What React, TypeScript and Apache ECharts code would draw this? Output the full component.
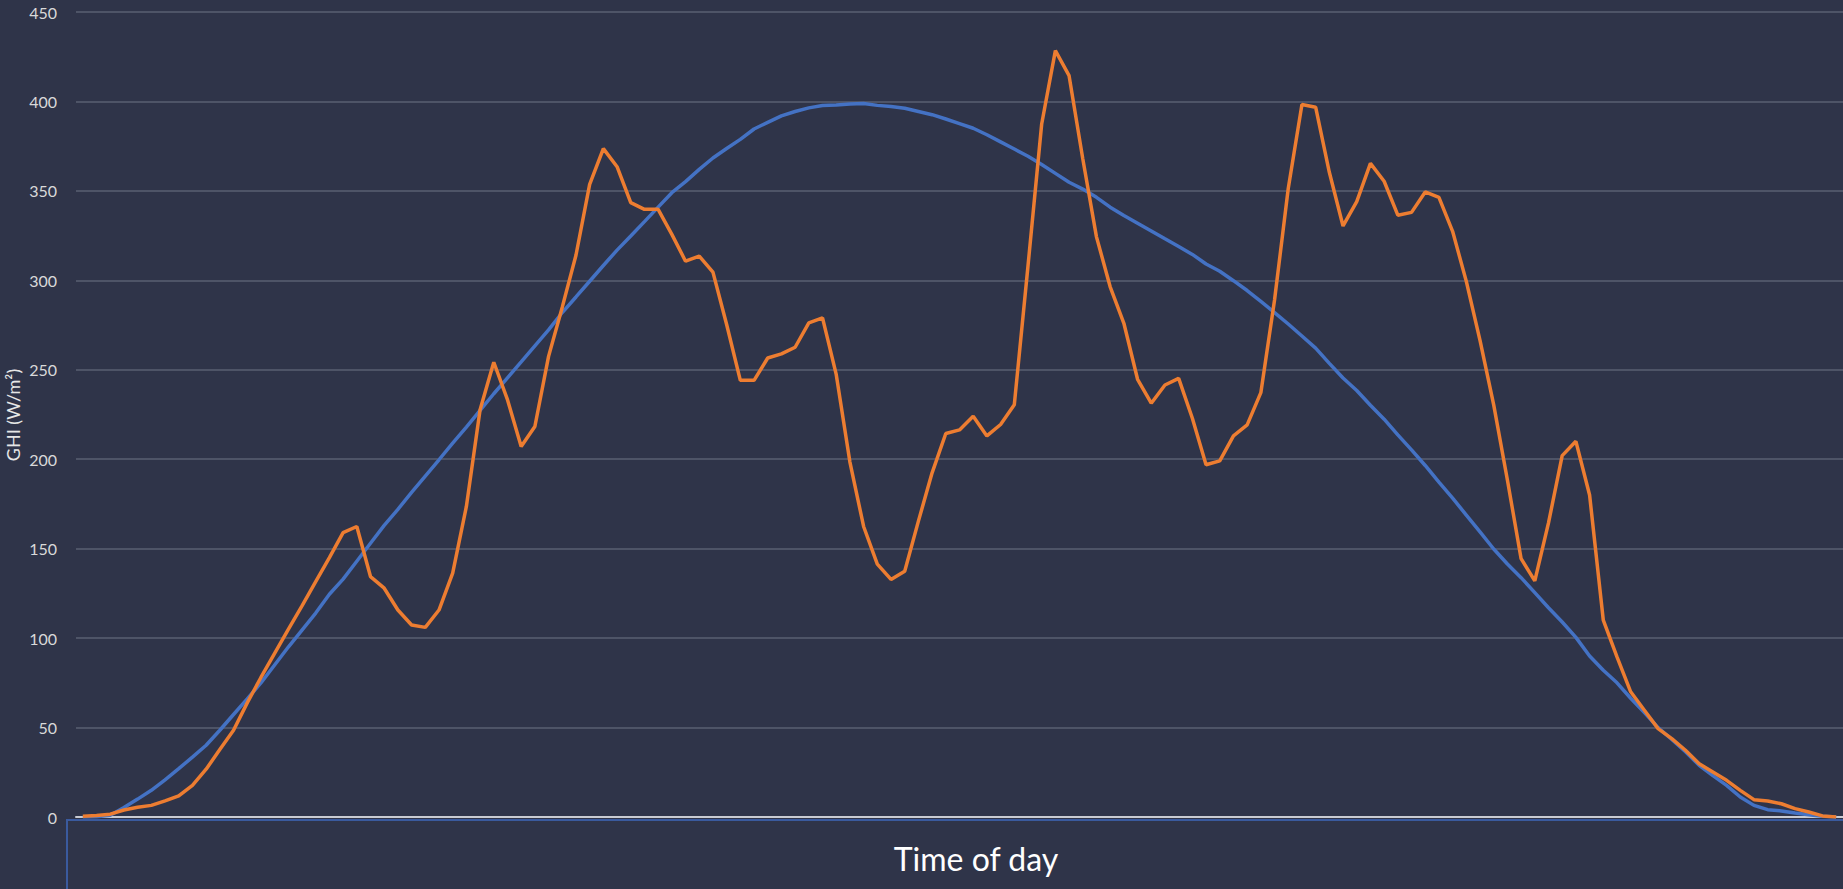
import React, { useEffect, useRef } from "react";
import * as echarts from "echarts";

const yTicks = { min: 0, max: 450, interval: 50 };

const clearSky: number[] = [
  0, 0.2, 1, 5.3, 10, 14.9, 20.8, 27, 33.5, 40.1,
  48.5, 57.3, 66, 75, 85, 95, 104.5, 114, 124.5, 133,
  143, 153, 163, 172, 181.5, 190.6, 199.7, 209, 218, 227.3,
  236.6, 245.5, 254.4, 263.4, 272.3, 282, 290.7, 299.5, 308.3, 316.9,
  324.8, 332.8, 340.9, 349, 355.2, 362, 368.4, 373.7, 378.8, 384.6,
  388.3, 391.9, 394.4, 396.4, 397.7, 398, 398.6, 398.8, 397.8, 397.2,
  396.2, 394.4, 392.6, 390.2, 387.6, 385, 381.4, 377.4, 373.4, 369.4,
  364.8, 359.8, 354.8, 351, 346.4, 340.9, 336.2, 331.9, 327.6, 323.2,
  318.9, 314.5, 309.1, 305.1, 299.8, 294.3, 288.2, 282, 275.6, 268.9,
  262.1, 253.6, 245.4, 238.4, 230.2, 222.4, 213.6, 205.2, 196.5, 187.2,
  178.2, 168.8, 159.4, 149.8, 141.4, 133.8, 125.4, 117, 109, 100.4,
  90, 82, 75, 66.4, 58.4, 50, 43.3, 36.5, 28.9, 23.1,
  17.7, 11.2, 6.5, 4.1, 3.4, 2.2, 1.3, 0.4, 0,
];

const measured: number[] = [
  0.4, 0.9, 1.6, 3.9, 5.4, 6.5, 9, 11.8, 17.7, 26.7,
  37.7, 48.5, 63.8, 78, 91.5, 104.9, 118, 131.6, 145, 159,
  162.4, 134.4, 127.9, 115.7, 107.3, 106, 115.7, 136.3, 173.6, 227.7,
  254.2, 233.3, 207.1, 218.3, 257.5, 285, 314, 353.6, 373.6, 363.5,
  343.4, 339.7, 339.7, 325.7, 310.7, 313.5, 304.6, 275.3, 244.1, 244.1,
  256.6, 258.9, 262.6, 276.2, 279, 247.4, 198.4, 162.4, 141.4, 132.8,
  137.4, 165.4, 192.4, 214.4, 216.4, 224, 213, 219.4, 230.4, 308,
  387.4, 428.4, 414.4, 368, 324.3, 296.4, 276, 244.7, 231.3, 241.5,
  245.2, 222.9, 196.9, 199.1, 213.1, 219.2, 237.2, 289, 351.3, 398.3,
  396.8, 360.4, 330.4, 344, 365.4, 355.4, 336.4, 338, 349.4, 346.4,
  327.4, 299.4, 266.4, 230.4, 188.4, 144.4, 132, 164.4, 202, 210,
  180, 110, 89.5, 70, 59.7, 49.4, 43.8, 37.3, 29.8, 25.2,
  20.5, 14.9, 9.7, 8.9, 7.4, 4.7, 2.8, 0.6, 0,
];

const categories: string[] = measured.map((_, i) => String(i));

const xTitle = "Time of day";
const yTitle = "GHI (W/m²)";

export default function App() {
  const ref = useRef<HTMLDivElement>(null);

  useEffect(() => {
    document.body.style.margin = "0";
    const chart = echarts.init(ref.current!, null, { renderer: "svg" });
    const font = "Lato, 'Open Sans', sans-serif";
    chart.setOption({
      animation: false,
      backgroundColor: "#2f3449",
      textStyle: { fontFamily: font },
      grid: { left: 76, right: 0, top: 12, bottom: 72, containLabel: false },
      xAxis: {
        type: "category",
        data: categories,
        boundaryGap: true,
        axisLine: { show: true, lineStyle: { color: "#c9cbd2", width: 2 } },
        axisTick: { show: false },
        axisLabel: { show: false },
        splitLine: { show: false },
      },
      yAxis: {
        type: "value",
        min: yTicks.min,
        max: yTicks.max,
        interval: yTicks.interval,
        axisLine: { show: false },
        axisTick: { show: false },
        axisLabel: { color: "#d9d9d9", fontSize: 16, margin: 19, fontFamily: font },
        splitLine: { show: true, lineStyle: { color: "#5a5f72", width: 1.5 } },
      },
      series: [
        {
          name: "Clear sky",
          type: "line",
          data: clearSky,
          showSymbol: false,
          lineStyle: { color: "#4472c4", width: 3.5 },
          itemStyle: { color: "#4472c4" },
          z: 2,
        },
        {
          name: "Measured",
          type: "line",
          data: measured,
          showSymbol: false,
          lineStyle: { color: "#ed7d31", width: 3.5 },
          itemStyle: { color: "#ed7d31" },
          z: 3,
        },
      ],
      graphic: [
        {
          type: "polyline",
          shape: { points: [[67, 889], [67, 820], [1843, 820]] },
          style: { stroke: "#3a5a9e", lineWidth: 2, fill: "none" },
          z: 1,
        },
        {
          type: "text",
          x: 976,
          y: 858,
          style: {
            text: xTitle,
            fill: "#ffffff",
            font: `32px ${font}`,
            textAlign: "center",
            textVerticalAlign: "middle",
          },
        },
        {
          type: "text",
          x: 13,
          y: 415,
          rotation: Math.PI / 2,
          style: {
            text: yTitle,
            fill: "#e6e6e6",
            font: `18px ${font}`,
            textAlign: "center",
            textVerticalAlign: "middle",
          },
        },
      ],
    });
    return () => chart.dispose();
  }, []);

  return (
    <div
      ref={ref}
      style={{ position: "fixed", left: 0, top: 0, width: 1843, height: 889 }}
    />
  );
}
